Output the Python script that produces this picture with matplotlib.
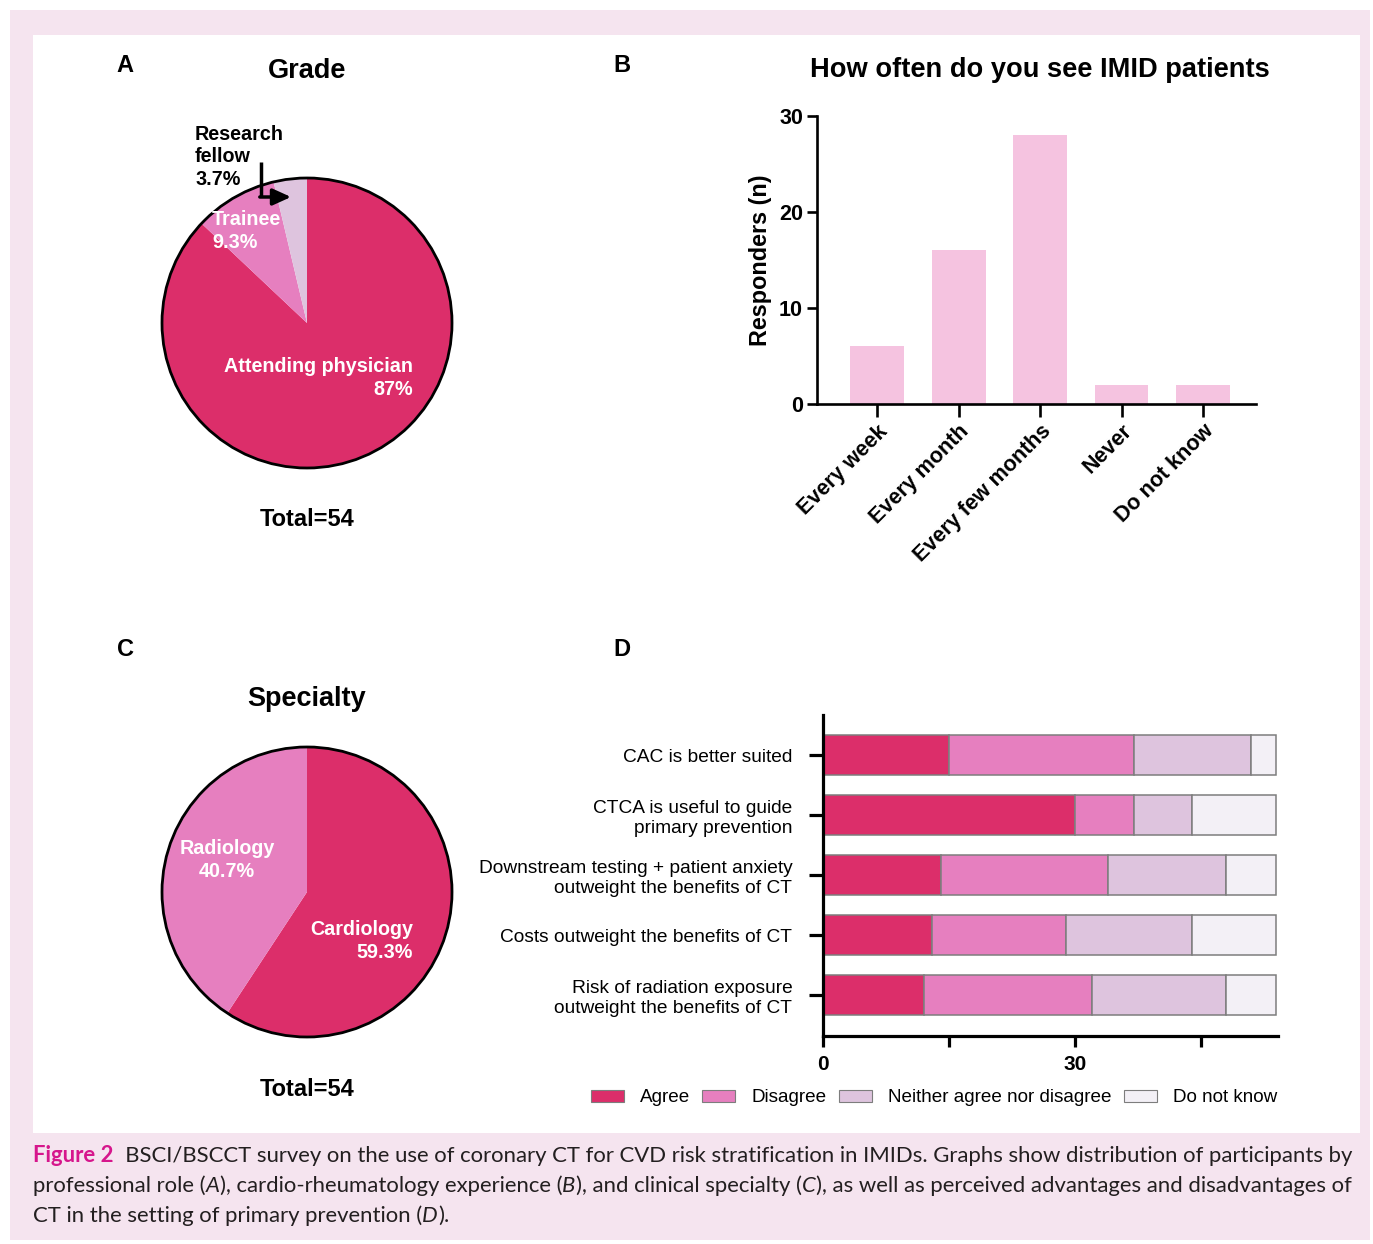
import matplotlib
matplotlib.use("Agg")
import matplotlib.pyplot as plt
from matplotlib.patches import Rectangle, Circle, Patch

W, H = 1373, 1244

# Panel A - grade
grade_labels = ["Attending physician", "Trainee", "Research\nfellow"]
grade_counts = [47, 5, 2]

# Panel B - how often IMID patients are seen
freq_labels = ["Every week", "Every month", "Every few months", "Never", "Do not know"]
freq_counts = [6, 16, 28, 2, 2]

# Panel C - specialty
spec_labels = ["Cardiology", "Radiology"]
spec_counts = [32, 22]

# Panel D - opinions on CT in primary prevention
stmt_labels = [
    "CAC is better suited",
    "CTCA is useful to guide\nprimary prevention",
    "Downstream testing + patient anxiety\noutweight the benefits of CT",
    "Costs outweight the benefits of CT",
    "Risk of radiation exposure\noutweight the benefits of CT",
]
resp_names = ["Agree", "Disagree", "Neither agree nor disagree", "Do not know"]
agree = [15, 30, 14, 13, 12]
disagree = [22, 7, 20, 16, 20]
neither = [14, 7, 14, 15, 16]
dont_know = [3, 10, 6, 10, 6]

RED = "#DC2E6A"
PINK = "#E67FBF"
LILAC = "#DEC4DE"
PALE = "#F3F0F6"
BAR_B = "#F5C3E0"

SANS = "Liberation Sans"
plt.rcParams["font.family"] = SANS

fig = plt.figure(figsize=(W / 100, H / 100), dpi=100)
fig.patch.set_facecolor("white")


def overlay(z):
    ax = fig.add_axes([0, 0, 1, 1], zorder=z)
    ax.set_xlim(0, W)
    ax.set_ylim(H, 0)
    ax.axis("off")
    ax.patch.set_alpha(0)
    return ax


# pixel-unit overlays: one behind the plots for the frame, one in front for labels
bg = overlay(0)
fg = overlay(5)
bg.add_patch(Rectangle((10, 10), 1360, 1230, facecolor="#F5E4EF", edgecolor="none"))
bg.add_patch(Rectangle((33, 35), 1327, 1098, facecolor="white", edgecolor="none"))


def px_axes(left, top, right, bottom):
    ax = fig.add_axes([left / W, 1 - bottom / H, (right - left) / W, (bottom - top) / H], zorder=2)
    ax.patch.set_alpha(0)
    return ax


def pct(v, total):
    s = f"{v / total * 100:.1f}"
    return (s[:-2] if s.endswith(".0") else s) + "%"


def draw_pie(cx, cy, r, counts, colors):
    ax = px_axes(cx - r, cy - r, cx + r, cy + r)
    ax.pie(counts, colors=colors, startangle=90, counterclock=False, radius=1,
           wedgeprops=dict(linewidth=0))
    ax.add_patch(Circle((0, 0), 1, fill=False, lw=2, edgecolor="black", clip_on=False))
    ax.set_xlim(-1, 1)
    ax.set_ylim(-1, 1)
    ax.set_aspect("equal")
    return ax


bold = dict(fontweight="bold", family=SANS)
letter_kw = dict(fontsize=17, **bold)
pie_kw = dict(fontsize=14.2, linespacing=1.22, **bold)

# ---- Panel A
fg.text(125, 65, "A", ha="center", va="center", **letter_kw)
fg.text(307, 71, "Grade", ha="center", va="center", fontsize=19.5, **bold)
draw_pie(307, 323, 145, grade_counts, [RED, PINK, LILAC])
tot_a = sum(grade_counts)
fg.text(413, 378, f"{grade_labels[0]}\n{pct(grade_counts[0], tot_a)}", ha="right", va="center",
        color="white", **pie_kw)
fg.text(212, 231, f"{grade_labels[1]}\n{pct(grade_counts[1], tot_a)}", ha="left", va="center",
        color="white", **pie_kw)
fg.text(195, 157, f"{grade_labels[2]}\n{pct(grade_counts[2], tot_a)}", ha="left", va="center",
        color="black", **pie_kw)
fg.plot([261, 261], [162, 197], color="black", lw=2.5, solid_capstyle="butt")
fg.annotate("", xy=(291, 197), xytext=(259.8, 197),
            arrowprops=dict(arrowstyle="-|>,head_length=1.1,head_width=0.5", lw=2.5, color="black",
                            shrinkA=0, shrinkB=0))
fg.text(307, 519, f"Total={tot_a}", ha="center", va="center", fontsize=17, **bold)

# ---- Panel C
fg.text(125, 650, "C", ha="center", va="center", **letter_kw)
fg.text(307, 699, "Specialty", ha="center", va="center", fontsize=19.5, **bold)
draw_pie(307, 892, 145, spec_counts, [RED, PINK])
tot_c = sum(spec_counts)
fg.text(413, 941, f"{spec_labels[0]}\n{pct(spec_counts[0], tot_c)}", ha="right", va="center",
        color="white", multialignment="right", **pie_kw)
fg.text(227, 860, f"{spec_labels[1]}\n{pct(spec_counts[1], tot_c)}", ha="center", va="center",
        color="white", **pie_kw)
fg.text(307, 1089, f"Total={tot_c}", ha="center", va="center", fontsize=17, **bold)

# ---- Panel B
fg.text(622, 65, "B", ha="center", va="center", **letter_kw)
fg.text(1040, 70, "How often do you see IMID patients", ha="center", va="center", fontsize=19.6, **bold)
axb = px_axes(817, 116, 1256, 404)
xb = range(len(freq_labels))
axb.bar(xb, freq_counts, width=0.66, color=BAR_B, edgecolor="none")
axb.set_xlim(-0.74, 4.65)
axb.set_ylim(0, 30)
axb.set_yticks([0, 10, 20, 30])
axb.set_xticks(list(xb))
axb.set_xticklabels(freq_labels, rotation=45, ha="right", rotation_mode="anchor", fontsize=15.5, **bold)
for lab in axb.get_yticklabels():
    lab.set_fontweight("bold")
    lab.set_fontsize(15.5)
axb.spines[["top", "right"]].set_visible(False)
for s in ["left", "bottom"]:
    axb.spines[s].set_linewidth(1.9)
axb.tick_params(axis="y", length=7, width=1.9, pad=3)
axb.tick_params(axis="x", length=9, width=1.9, pad=3)
axb.set_ylabel("Responders (n)", fontsize=16.8, labelpad=5, **bold)

# ---- Panel D
fg.text(622, 650, "D", ha="center", va="center", **letter_kw)
axd = px_axes(823, 715, 1278, 1036)
yd = list(range(len(stmt_labels)))
left = [0] * len(yd)
for vals, col, name in zip([agree, disagree, neither, dont_know], [RED, PINK, LILAC, PALE], resp_names):
    axd.barh(yd, vals, left=left, height=0.667, color=col, edgecolor="#7d7d7d", linewidth=1.1, label=name)
    left = [a + b for a, b in zip(left, vals)]
axd.set_xlim(0, 54.2)
axd.set_ylim(4.68, -0.67)
axd.set_yticks(yd)
axd.set_yticklabels(stmt_labels, fontsize=13.8, linespacing=1.2)
axd.set_xticks([0, 15, 30, 45])
axd.set_xticklabels(["0", "", "30", ""], fontsize=15, fontweight="bold")
axd.spines[["top", "right"]].set_visible(False)
for s in ["left", "bottom"]:
    axd.spines[s].set_linewidth(2.3)
axd.tick_params(axis="y", length=10, width=2.3, pad=12)
axd.tick_params(axis="x", length=8, width=2.3, pad=6)

handles = [Patch(facecolor=c, edgecolor="#7d7d7d", linewidth=0.8) for c in [RED, PINK, LILAC, PALE]]
fig.legend(handles, resp_names, loc="center", bbox_to_anchor=(934, 1098), bbox_transform=bg.transData,
           ncol=4, frameon=False, fontsize=13.6, handlelength=1.75, handleheight=0.55,
           handletextpad=0.85, columnspacing=0.65, borderpad=0, borderaxespad=0)

# ---- caption
CAP = "Lato"
cap_size = 15.9
cap_color = "#231F20"


def rich_line(x, y, parts):
    t = None
    for s, st in parts:
        kw = dict(fontsize=cap_size, family=CAP, color=cap_color)
        if st == "fig":
            kw.update(color="#D6168C", fontweight="bold")
        elif st == "it":
            kw.update(style="italic")
        if t is None:
            t = fg.text(x, y, s, va="baseline", ha="left", **kw)
        else:
            t = fg.annotate(s, xy=(1, 0), xycoords=t, va="bottom", ha="left", **kw)


rich_line(33, 1162, [("Figure 2", "fig"),
                     ("  BSCI/BSCCT survey on the use of coronary CT for CVD risk stratification in IMIDs. "
                      "Graphs show distribution of participants by", "")])
rich_line(33, 1192, [("professional role (", ""), ("A", "it"), ("), cardio-rheumatology experience (", ""),
                     ("B", "it"), ("), and clinical specialty (", ""), ("C", "it"),
                     ("), as well as perceived advantages and disadvantages of", "")])
rich_line(33, 1222, [("CT in the setting of primary prevention (", ""), ("D", "it"), (").", "")])

fig.savefig("out.png", dpi=100, facecolor=fig.get_facecolor())
